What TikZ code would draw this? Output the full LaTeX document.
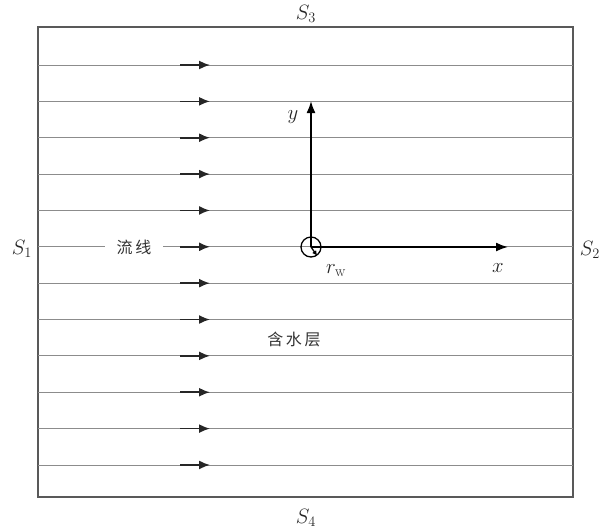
\documentclass[tikz,border=0pt]{standalone}
\usepackage{fontspec}
\newfontfamily\cjk{Noto Sans CJK SC}
\usetikzlibrary{arrows.meta}

\begin{document}
\begin{tikzpicture}[x=1pt,y=-1pt,
  flow/.style={black!45,line width=0.8pt},
  dir/.style={black!85,line width=1.6pt,-{Latex[length=11pt,width=9pt]}},
  axis/.style={black,line width=1.7pt,-{Latex[length=12pt,width=9pt]}},
  lbl/.style={font=\fontsize{22}{24}\selectfont,text=black!85,inner sep=1pt},
  hanzi/.style={font=\cjk\fontsize{16}{18}\selectfont,text=black!80,inner sep=1pt}]
    \useasboundingbox (0,0) rectangle (605,531);
    %boundary
    \draw[black!65,line width=1.3pt] (38,27) rectangle (573,497);
    %streamlines
    \foreach \i in {0,...,11}{
        \pgfmathsetmacro\yy{65+36.36*\i}
        \coordinate (w\i) at (38,\yy);
        \coordinate (e\i) at (573,\yy);
        \coordinate (a\i) at (180,\yy);
        \coordinate (b\i) at (210,\yy);
        \draw[flow] (w\i) -- (e\i);
        \draw[dir] (a\i) -- (b\i);
    }
    %well and axes
    \node[draw,circle,line width=1.3pt,minimum size=20pt,inner sep=0pt] (well) at (311,247) {};
    \coordinate (xend) at (508,247);
    \coordinate (yend) at (311,101);
    \draw[axis] (well.center) -- (xend);
    \draw[axis] (well.center) -- (yend);
    \draw[line width=1.3pt,-{Latex[length=5pt,width=5pt]}] (well.center) -- (well.-55);
    %labels
    \node[hanzi,fill=white,inner xsep=12pt] (flowlbl) at (134,247) {流\,线};
    \node[hanzi] (aquifer) at (294,339) {含\,水\,层};
    \node[lbl] (ylbl) at (293,117) {$y$};
    \node[lbl] (xlbl) at (498,268) {$x$};
    \node[lbl] (rlbl) at (336,271) {$r_{\mathrm{w}}$};
    \node[lbl] (s1) at (22,249) {$S_1$};
    \node[lbl] (s2) at (590,250) {$S_2$};
    \node[lbl] (s3) at (306,14) {$S_3$};
    \node[lbl] (s4) at (306,518) {$S_4$};
\end{tikzpicture}
\end{document}
